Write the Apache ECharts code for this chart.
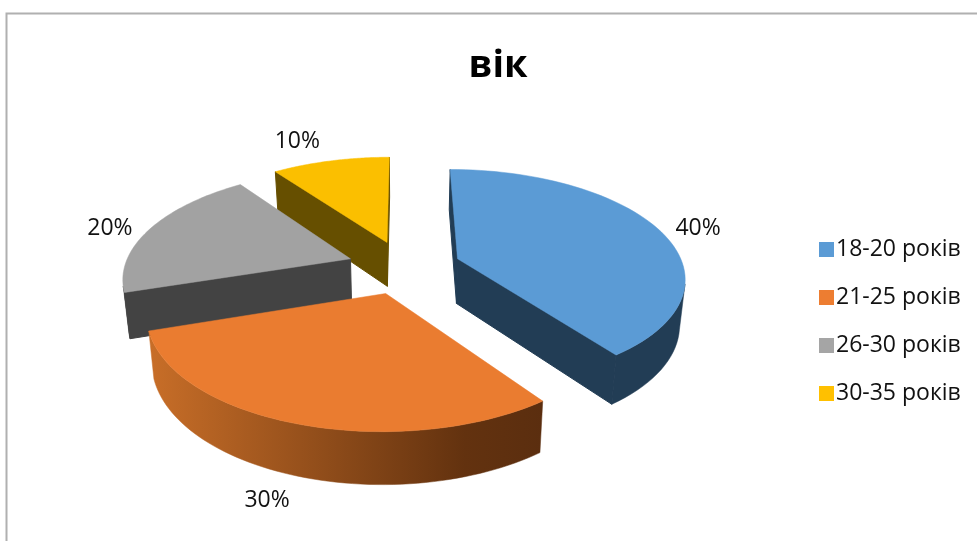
<!DOCTYPE html>
<html>
<head>
<meta charset="utf-8">
<style>html,body{margin:0;padding:0;background:#fff}#chart{width:977px;height:541px}</style>
<script src="https://cdn.jsdelivr.net/npm/echarts@6/dist/echarts.min.js"></script>
</head>
<body>
<div id="chart"></div>
<script>
// Age groups and their shares, in percent
const categories = ['18-20 років', '21-25 років', '26-30 років', '30-35 років'];
const shares = [40, 30, 20, 10];

const legendColors = ['#5b9bd5', '#ed7d31', '#a5a5a5', '#ffc000'];
const topColors = ['#5b9bd5', '#ea7c30', '#a2a2a2', '#fbbf00'];
const wallColors = ['#223d55', '#5f3010', '#434343', '#664f00'];
const FONT = '"Open Sans", sans-serif';

// Scene of the exploded, tilted pie
const CX = 404, CY = 267;      // screen position of the pie axis
const RADIUS = 226;            // slice radius on the ground plane
const EXPLODE = 57;            // distance each slice is pulled out
const DEPTH = 45;              // slice thickness
const TILT = 0.47;             // vertical squash of the ground plane
const CAMERA = 1400;           // perspective distance
const SHRINK = 0.02 / DEPTH;   // narrowing of the lower face
const STEPS = 64;              // arc subdivisions per slice
const LABEL_RIM = RADIUS + 20; // label anchor distance from the slice apex
const LABEL_SHIFT = [[24, 3], [-19, 63], [-24, 3], [-29, -13]]; // hand placement of each label

function project(X, Y, z) {
  const s = 1 / (1 - Y / CAMERA);
  const shrink = 1 - z * SHRINK;
  return [CX + X * s * shrink, CY + TILT * Y * s * shrink + z * s];
}

// Sign of the screen-space turn from edge a->b to the downward edge a->c
function turn(a, b, c) {
  return (b[0] - a[0]) * (c[1] - a[1]) - (b[1] - a[1]) * (c[0] - a[0]);
}

const total = shares.reduce((a, b) => a + b, 0);

function sliceRenderer(index) {
  const before = shares.slice(0, index).reduce((a, b) => a + b, 0);
  return function (params, api) {
    const value = api.value(0);
    const start = before / total * Math.PI * 2;
    const end = (before + value) / total * Math.PI * 2;
    const mid = (start + end) / 2;
    const ox = Math.sin(mid) * EXPLODE;
    const oy = -Math.cos(mid) * EXPLODE;
    const rim = (a, r, z) => project(ox + Math.sin(a) * r, oy - Math.cos(a) * r, z);

    const upper = [], lower = [];
    for (let i = 0; i <= STEPS; i++) {
      const a = start + (end - start) * i / STEPS;
      upper.push(rim(a, RADIUS, 0));
      lower.push(rim(a, RADIUS, DEPTH));
    }
    const apexTop = project(ox, oy, 0);
    const apexLow = project(ox, oy, DEPTH);

    const poly = (points, fill, width) => ({
      type: 'polygon',
      shape: { points },
      style: { fill, stroke: fill, lineWidth: width }
    });
    const children = [];
    const flat = wallColors[index];

    // Only faces turned towards the viewer are painted
    if (turn(apexTop, upper[0], apexLow) < 0) {
      children.push(poly([apexTop, upper[0], lower[0], apexLow], flat, 1));
    }
    if (turn(apexTop, upper[STEPS], apexLow) > 0) {
      children.push(poly([apexTop, upper[STEPS], lower[STEPS], apexLow], flat, 1));
    }
    const front = [];
    for (let i = 0; i < STEPS; i++) {
      if (turn(upper[i], upper[i + 1], lower[i]) < 0) front.push(i);
    }
    if (front.length) {
      const from = front[0], to = front[front.length - 1] + 1;
      const shell = upper.slice(from, to + 1).concat(lower.slice(from, to + 1).reverse());
      let shellFill = flat;
      if (index === 1) {
        // the front wall of this slice catches the light on its left
        shellFill = new echarts.graphic.LinearGradient(1, 0, 0, 0, [
          { offset: 0, color: '#5b2e0f' },
          { offset: 0.2, color: '#63320f' },
          { offset: 1, color: '#c86e28' }
        ]);
      }
      children.push(poly(shell, shellFill, 0.5));
    }
    children.push(poly([apexTop].concat(upper), topColors[index], 0.5));

    const at = rim(mid, LABEL_RIM, 0);
    children.push({
      type: 'text',
      style: {
        text: Math.round(value / total * 100) + '%',
        x: at[0] + LABEL_SHIFT[index][0],
        y: at[1] + LABEL_SHIFT[index][1],
        align: 'center', verticalAlign: 'middle',
        fill: '#111', font: '23px ' + FONT
      }
    });
    return { type: 'group', children };
  };
}

// Far slices are painted first so nearer ones overlap them
const paintDepth = [3, 4, 2, 1];
const series = categories.map((name, i) => ({
  type: 'custom',
  name,
  coordinateSystem: 'none',
  silent: true,
  z: paintDepth[i],
  itemStyle: { color: legendColors[i] },
  renderItem: sliceRenderer(i),
  data: [{ name, value: shares[i] }]
}));

const chart = echarts.init(document.getElementById('chart'), null, { renderer: 'canvas' });
chart.setOption({
  animation: false,
  backgroundColor: '#fff',
  title: {
    text: 'вік',
    left: 493, top: 42,
    textAlign: 'center',
    textStyle: { fontFamily: FONT, fontWeight: 'bold', fontSize: 38, color: '#000' }
  },
  legend: {
    orient: 'vertical',
    left: 814, top: 233,
    itemWidth: 15, itemHeight: 15, itemGap: 25,
    icon: 'rect',
    selectedMode: false,
    textStyle: { fontFamily: FONT, fontSize: 23, color: '#111', padding: [0, 0, 0, -3] },
    data: categories
  },
  graphic: [{
    type: 'polyline',
    silent: true,
    shape: { points: [[6.5, 541], [6.5, 13.5], [977, 13.5]] },
    style: { fill: null, stroke: '#b0b0b0', lineWidth: 2 }
  }],
  series
});
</script>
</body>
</html>
